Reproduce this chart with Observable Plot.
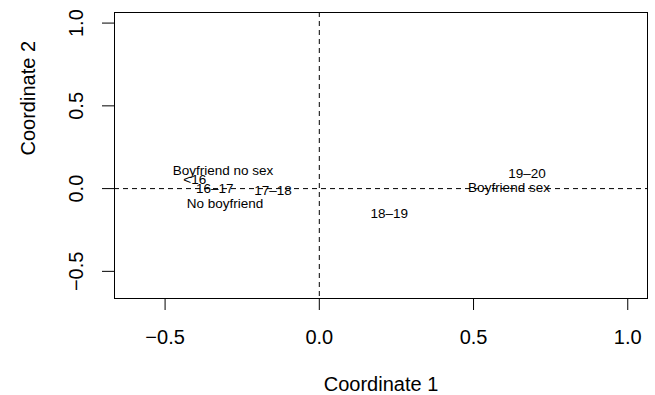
<!DOCTYPE html>
<html><head><meta charset="utf-8">
<script src="https://cdn.jsdelivr.net/npm/d3@7"></script>
<script src="https://cdn.jsdelivr.net/npm/@observablehq/plot@0.6"></script>
<style>body{margin:0;background:#fff}</style>
</head><body><div id="chart"></div>
<script>
const labels = ["Boyfriend no sex", "<16", "16–17", "17–18", "No boyfriend", "19–20", "Boyfriend sex", "18–19"];
const coord1 = [-0.312, -0.404, -0.339, -0.150, -0.306, 0.673, 0.615, 0.227];
const coord2 = [0.106, 0.056, -0.002, -0.014, -0.089, 0.092, 0.006, -0.149];
const xTicks = [-0.5, 0, 0.5, 1];
const xTickLabels = ["−0.5", "0.0", "0.5", "1.0"];
const yTicks = [-0.5, 0, 0.5, 1];
const yTickLabels = ["−0.5", "0.0", "0.5", "1.0"];
const xTitle = "Coordinate 1";
const yTitle = "Coordinate 2";

const data = labels.map((label, i) => ({label, x: coord1[i], y: coord2[i]}));

const plot = Plot.plot({
  width: 655, height: 395,
  marginLeft: 114, marginRight: 8, marginTop: 12, marginBottom: 97,
  style: {fontFamily: "'Liberation Sans', Arial, sans-serif", fontSize: "20px", color: "black", background: "white"},
  x: {domain: [-0.664, 1.064]},
  y: {domain: [-0.664, 1.064]},
  marks: [
    Plot.ruleX([0], {stroke: "black", strokeDasharray: "5,4"}),
    Plot.ruleY([0], {stroke: "black", strokeDasharray: "5,4"}),
    Plot.frame({stroke: "black"}),
    Plot.axisX({ticks: xTicks, tickFormat: d => xTickLabels[xTicks.indexOf(d)], tickSize: 12, tickPadding: 19, fontSize: 20, label: null, stroke: "black"}),
    Plot.axisY({ticks: yTicks, tickFormat: d => yTickLabels[yTicks.indexOf(d)], tickSize: 12, tickPadding: 20, fontSize: 20, tickRotate: -90, textAnchor: "middle", lineAnchor: "bottom", label: null, stroke: "black"}),
    Plot.text([xTitle], {text: d => d, frameAnchor: "bottom", dy: 86, lineAnchor: "middle", fontSize: 20, fill: "black"}),
    Plot.text([yTitle], {text: d => d, frameAnchor: "left", dx: -86, rotate: -90, lineAnchor: "middle", fontSize: 20, fill: "black"}),
    Plot.text(data, {x: "x", y: "y", text: "label", fontSize: 13.5, fill: "black", lineAnchor: "middle"})
  ]
});
document.getElementById("chart").appendChild(plot);
</script>
</body></html>
